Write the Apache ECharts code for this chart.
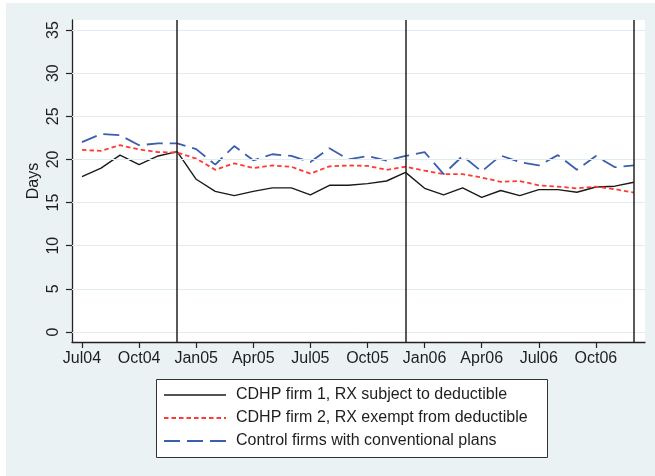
<!DOCTYPE html>
<html>
<head>
<meta charset="utf-8">
<script src="https://cdn.jsdelivr.net/npm/echarts@6/dist/echarts.min.js"></script>
<style>
  html, body { margin: 0; padding: 0; background: #ffffff; }
  #chart { width: 655px; height: 476px; }
</style>
</head>
<body>
<div id="chart"></div>
<script>
// Months from Jul 2004 to Dec 2006, indexed 0..29
const monthLabels = ['Jul04','Aug04','Sep04','Oct04','Nov04','Dec04',
  'Jan05','Feb05','Mar05','Apr05','May05','Jun05','Jul05','Aug05','Sep05','Oct05','Nov05','Dec05',
  'Jan06','Feb06','Mar06','Apr06','May06','Jun06','Jul06','Aug06','Sep06','Oct06','Nov06','Dec06'];
const xTickIdx = [0, 3, 6, 9, 12, 15, 18, 21, 24, 27];
const yTicks = [0, 5, 10, 15, 20, 25, 30, 35];
// Plan-year boundaries (December of each year)
const yearBreaks = [5, 17, 29];

const seriesNames = [
  'CDHP firm 1, RX subject to deductible',
  'CDHP firm 2, RX exempt from deductible',
  'Control firms with conventional plans'
];
const firm1Days = [18.0, 19.0, 20.5, 19.4, 20.4, 20.9, 17.7, 16.3, 15.8, 16.3, 16.7, 16.7, 15.9, 17.0, 17.0,
  17.2, 17.5, 18.5, 16.65, 15.9, 16.7, 15.6, 16.4, 15.8, 16.5, 16.5, 16.2, 16.8, 16.9, 17.35];
const firm2Days = [21.1, 21.0, 21.65, 21.15, 20.85, 20.8, 20.1, 18.8, 19.55, 19.0, 19.3, 19.15, 18.35, 19.2, 19.3,
  19.25, 18.8, 19.15, 18.7, 18.3, 18.3, 17.9, 17.4, 17.5, 17.0, 16.85, 16.65, 16.85, 16.55, 16.15];
const controlDays = [22.0, 22.95, 22.8, 21.65, 21.85, 21.85, 21.2, 19.4, 21.55, 19.9, 20.6, 20.4, 19.7, 21.3, 20.0,
  20.4, 19.85, 20.4, 20.85, 18.3, 20.4, 18.6, 20.45, 19.7, 19.3, 20.5, 18.8, 20.4, 19.1, 19.3];

const FONT = '"Liberation Sans", Arial, sans-serif';
const TXT = '#1e1e1e';

// line styles shared by the series and the legend keys
const styles = [
  { color: '#1a1a1a', width: 1.4, type: 'solid' },
  { color: '#ff3a32', width: 1.8, type: [4.5, 3] },
  { color: '#3b5eae', width: 1.8, type: [16, 7] }
];
const seriesData = [firm1Days, firm2Days, controlDays];

const toPairs = arr => arr.map((v, i) => [i, v]);

// legend box drawn as graphic elements
const legendBox = { x: 156, y: 379, w: 391, h: 78, rowY0: 16, rowGap: 23 };
const legendGraphics = [{
  type: 'rect', silent: true, z: 10,
  shape: { x: legendBox.x + 0.5, y: legendBox.y + 0.5, width: legendBox.w, height: legendBox.h },
  style: { fill: '#ffffff', stroke: '#333', lineWidth: 1 }
}];
seriesNames.forEach((name, i) => {
  const y = legendBox.y + legendBox.rowY0 + i * legendBox.rowGap;
  const s = styles[i];
  legendGraphics.push({
    type: 'line', silent: true, z: 11,
    shape: { x1: legendBox.x + 8, y1: y, x2: legendBox.x + 70, y2: y },
    style: { stroke: s.color, lineWidth: s.width, lineDash: s.type === 'solid' ? null : s.type }
  });
  legendGraphics.push({
    type: 'text', silent: true, z: 11,
    x: legendBox.x + 80, y: y,
    style: { text: name, fill: TXT, font: '16px ' + FONT, verticalAlign: 'middle', align: 'left' }
  });
});

const chart = echarts.init(document.getElementById('chart'), null, { renderer: 'canvas' });
chart.setOption({
  animation: false,
  backgroundColor: '#ffffff',
  graphic: [{
    type: 'rect', z: -10, silent: true,
    shape: { x: 6, y: 3, width: 649, height: 473 },
    style: { fill: '#eaf2f3' }
  }].concat(legendGraphics),
  grid: {
    left: 72, right: 10, top: 20, bottom: 134,
    show: true, backgroundColor: '#ffffff', borderWidth: 0
  },
  xAxis: {
    type: 'value', min: -0.525, max: 29.58,
    splitLine: { show: false },
    axisLine: { show: true, onZero: false, lineStyle: { color: '#222', width: 1.3 } },
    axisTick: { show: true, customValues: xTickIdx, length: 6, lineStyle: { color: '#222', width: 1.2 } },
    axisLabel: {
      customValues: xTickIdx, margin: 9,
      formatter: v => monthLabels[Math.round(v)],
      color: TXT, fontSize: 16, fontFamily: FONT
    }
  },
  yAxis: {
    type: 'value', min: -1.16, max: 36.16,
    name: 'Days', nameLocation: 'middle', nameGap: 30, nameMoveOverlap: false,
    nameTextStyle: { color: TXT, fontSize: 16, fontFamily: FONT },
    splitLine: { show: false },
    axisLine: { show: true, onZero: false, lineStyle: { color: '#222', width: 1.3 } },
    axisTick: { show: true, customValues: yTicks, length: 6, lineStyle: { color: '#222', width: 1.2 } },
    axisLabel: {
      customValues: yTicks, rotate: 90, margin: 10,
      color: TXT, fontSize: 16, fontFamily: FONT
    }
  },
  series: [
    {
      // horizontal grid lines and plan-year markers
      type: 'line', name: 'refs', data: [], z: 1, silent: true,
      markLine: {
        symbol: 'none', silent: true, label: { show: false }, animation: false,
        data: yTicks.map(v => ({ yAxis: v, lineStyle: { color: '#e2edf0', width: 1, type: 'solid' } }))
          .concat(yearBreaks.map(m => ({ xAxis: m, lineStyle: { color: '#222', width: 1.5, type: 'solid' } })))
      }
    }
  ].concat(seriesNames.map((name, i) => ({
    name: name, type: 'line', data: toPairs(seriesData[i]), z: 3,
    symbol: 'none', lineStyle: styles[i], itemStyle: { color: styles[i].color }
  })))
});
</script>
</body>
</html>
